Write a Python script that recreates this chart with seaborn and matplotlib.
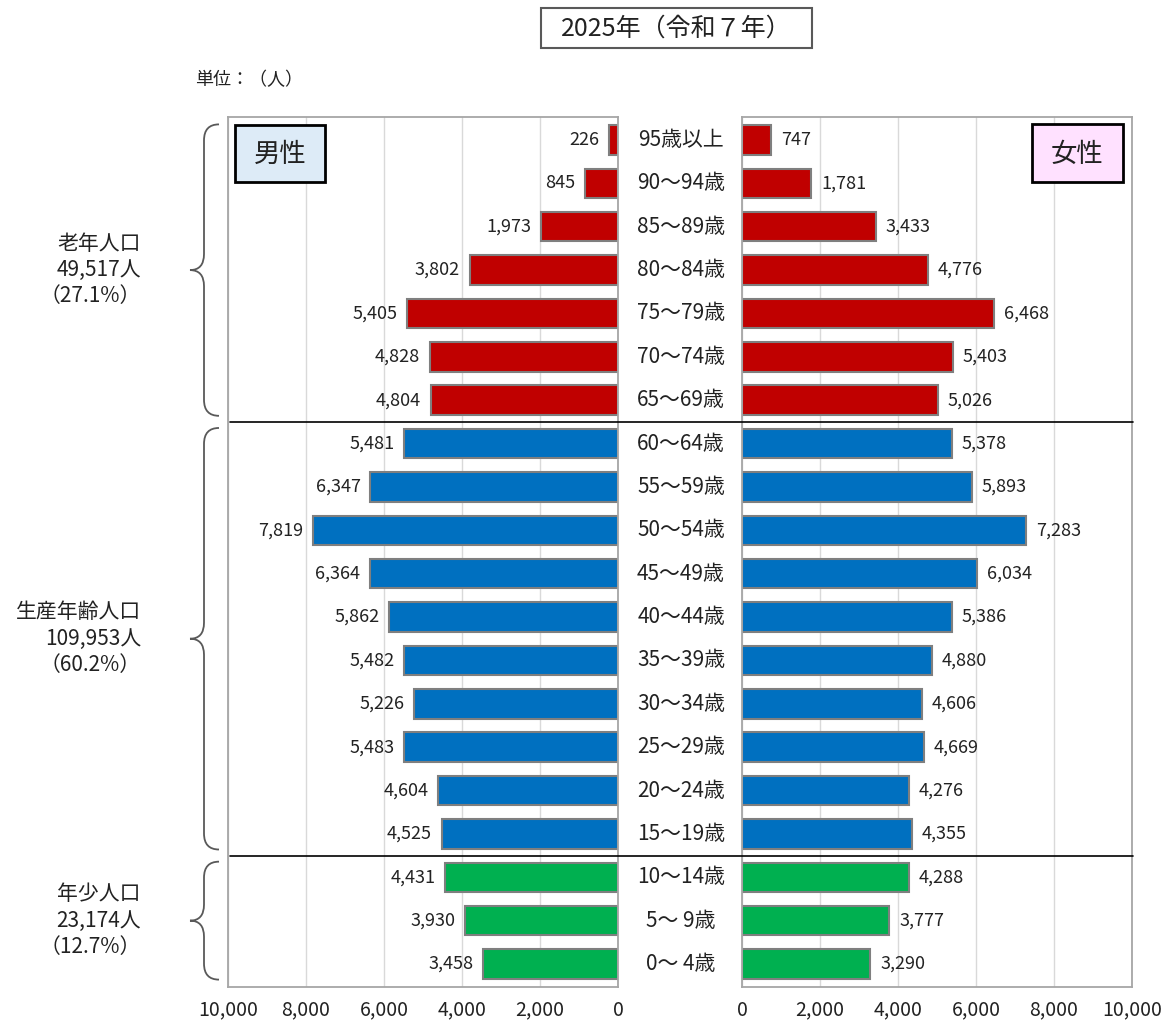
import matplotlib
matplotlib.use("Agg")
import matplotlib.pyplot as plt
import seaborn as sns
import pandas as pd
from matplotlib.path import Path
from matplotlib.patches import PathPatch, Rectangle
from matplotlib.ticker import FuncFormatter

ages = ["95歳以上", "90～94歳", "85～89歳", "80～84歳", "75～79歳", "70～74歳", "65～69歳",
        "60～64歳", "55～59歳", "50～54歳", "45～49歳", "40～44歳", "35～39歳", "30～34歳",
        "25～29歳", "20～24歳", "15～19歳", "10～14歳", "5～ 9歳", "0～ 4歳"]
male = [226, 845, 1973, 3802, 5405, 4828, 4804,
        5481, 6347, 7819, 6364, 5862, 5482, 5226, 5483, 4604, 4525,
        4431, 3930, 3458]
female = [747, 1781, 3433, 4776, 6468, 5403, 5026,
          5378, 5893, 7283, 6034, 5386, 4880, 4606, 4669, 4276, 4355,
          4288, 3777, 3290]
groups = ["老年"] * 7 + ["生産"] * 10 + ["年少"] * 3
group_names = ["老年", "生産", "年少"]
group_labels = ["老年人口\n49,517人\n（27.1%）", "生産年齢人口\n109,953人\n（60.2%）", "年少人口\n23,174人\n（12.7%）"]
group_colors = {"老年": "#C00000", "生産": "#0070C0", "年少": "#00B050"}
title = "2025年（令和７年）"
unit = "単位：（人）"
ticks = [0, 2000, 4000, 6000, 8000, 10000]

df = pd.DataFrame({"age": ages, "male": male, "female": female, "group": groups})

sns.set_style("white")
plt.rcParams["font.family"] = ["Noto Sans CJK JP", "DejaVu Sans"]

W, H = 1172, 1024
fig = plt.figure(figsize=(W / 100, H / 100), dpi=100)
axl = fig.add_axes([228 / W, 1 - 987 / H, 390 / W, 870 / H])
axr = fig.add_axes([742 / W, 1 - 987 / H, 390 / W, 870 / H])

n = len(ages)
edge = "#7F7F7F"
for ax, col in [(axl, "male"), (axr, "female")]:
    sns.barplot(data=df, y="age", x=col, hue="group", hue_order=group_names,
                palette=group_colors, dodge=False, width=0.68, order=ages,
                saturation=1, edgecolor=edge, linewidth=1.5, legend=False, ax=ax)
    ax.set_ylim(n - 0.47, -0.53)
    ax.set_xticks(ticks)
    ax.xaxis.set_major_formatter(FuncFormatter(lambda v, p: f"{int(v):,}"))
    ax.tick_params(axis="x", labelsize=14, length=5, color="#A6A6A6", direction="out",
                   pad=4, labelcolor="#222222")
    ax.tick_params(axis="y", left=False, labelleft=False)
    ax.set_xlabel("")
    ax.set_ylabel("")
    ax.grid(axis="x", color="#D9D9D9", lw=1)
    ax.set_axisbelow(True)
    for s in ax.spines.values():
        s.set_color("#A6A6A6")
        s.set_linewidth(1.3)

axl.set_xlim(10000, 0)
axr.set_xlim(0, 10000)

for i, v in enumerate(male):
    axl.annotate(f"{v:,}", (v, i), xytext=(-7, 0), textcoords="offset points",
                 ha="right", va="center", fontsize=13, color="#222222")
for i, v in enumerate(female):
    axr.annotate(f"{v:,}", (v, i), xytext=(7, 0), textcoords="offset points",
                 ha="left", va="center", fontsize=13, color="#222222")

# overlay for annotations
ov = fig.add_axes([0, 0, 1, 1], zorder=5)
ov.set_xlim(0, W)
ov.set_ylim(H, 0)
ov.axis("off")
ov.patch.set_alpha(0)

def row_y(r):
    d = axl.transData.transform((0, r))
    return ov.transData.inverted().transform(d)[1]

# age labels in the middle
for i, a in enumerate(ages):
    ov.text(681, row_y(i), a, ha="center", va="center", fontsize=15, color="#222222")

# separators
for r in [6.5, 16.5]:
    y = row_y(r)
    ov.plot([230, 1133], [y, y], color="black", lw=1.2)

# title box
ov.add_patch(Rectangle((541, 8), 271, 40, facecolor="white", edgecolor="#595959", lw=1.5))
ov.text(676, 29, title, ha="center", va="center", fontsize=18, color="#222222")
ov.text(195, 80, unit, ha="left", va="center", fontsize=13, color="#222222")

# sex boxes
ov.add_patch(Rectangle((235, 125), 90, 57, facecolor="#DDEBF7", edgecolor="black", lw=2))
ov.text(280, 154, "男性", ha="center", va="center", fontsize=19, color="#222222")
ov.add_patch(Rectangle((1032, 124), 91, 58, facecolor="#FFE1FF", edgecolor="black", lw=2))
ov.text(1077, 154, "女性", ha="center", va="center", fontsize=19, color="#222222")

# braces
def brace(y0, y1, xr=219, xm=204, xt=190, r=16):
    ym = (y0 + y1) / 2
    verts = [(xr, y0), (xm, y0), (xm, y0 + r),
             (xm, ym - r),
             (xm, ym), (xt, ym),
             (xm, ym), (xm, ym + r),
             (xm, y1 - r),
             (xm, y1), (xr, y1)]
    codes = [Path.MOVETO, Path.CURVE3, Path.CURVE3,
             Path.LINETO,
             Path.CURVE3, Path.CURVE3,
             Path.CURVE3, Path.CURVE3,
             Path.LINETO,
             Path.CURVE3, Path.CURVE3]
    ov.add_patch(PathPatch(Path(verts, codes), facecolor="none", edgecolor="#595959", lw=1.3))
    return ym

spans = [(0, 6), (7, 16), (17, 19)]
for (a, b), lab in zip(spans, group_labels):
    y0 = row_y(a - 0.36)
    y1 = row_y(b + 0.36)
    ym = brace(y0, y1)
    ov.text(141, ym, lab, ha="right", va="center", fontsize=15, color="#222222",
            linespacing=1.25, multialignment="right")

fig.savefig("out.png", dpi=100)
